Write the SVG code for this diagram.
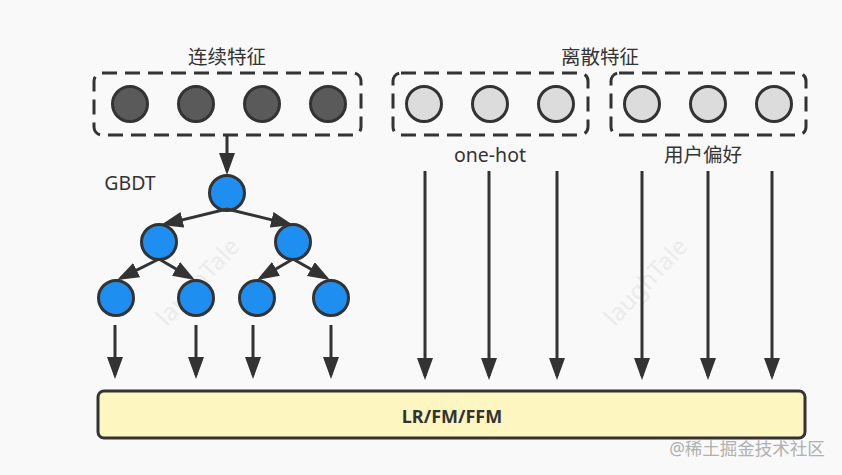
<svg xmlns="http://www.w3.org/2000/svg" width="842" height="475" viewBox="0 0 842 475">
<defs>
<marker id="ah" markerUnits="userSpaceOnUse" markerWidth="22" markerHeight="16" refX="18" refY="8" orient="auto">
<path d="M0,0 L22,8 L0,16 Z" fill="#333"/>
</marker>
<style>
.bg{fill:#f9f9f9}
.t{font-family:"Noto Sans","Noto Sans CJK SC",sans-serif;font-size:19.5px;fill:#333;text-anchor:middle}
.b{font-family:"Noto Sans",sans-serif;font-size:18px;font-weight:bold;fill:#333;text-anchor:middle}
.wm{font-family:"Noto Sans",sans-serif;font-size:24px;fill:#ebebeb;text-anchor:middle}
.box{fill:none;stroke:#333;stroke-width:3;stroke-dasharray:15 8}
.dk{fill:#5a5a5a;stroke:#333;stroke-width:3}
.lt{fill:#dcdcdc;stroke:#333;stroke-width:3}
.bl{fill:#1e8ff0;stroke:#333;stroke-width:3}
.e{stroke:#333;stroke-width:3;fill:none;marker-end:url(#ah)}
</style>
</defs>
<rect class="bg" x="0" y="0" width="842" height="475"/>
<g id="watermarks">
<text class="wm" transform="translate(198,282) rotate(-47)" dy="8">laughTale</text>
<text class="wm" transform="translate(646,282) rotate(-47)" dy="8">laughTale</text>
</g>
<g id="continuous">
<text class="t" x="227" y="64">连续特征</text>
<rect class="box" x="94" y="73" width="267" height="62" rx="8"/>
<circle class="dk" cx="130" cy="104" r="17.5"/>
<circle class="dk" cx="196" cy="104" r="17.5"/>
<circle class="dk" cx="262" cy="104" r="17.5"/>
<circle class="dk" cx="328" cy="104" r="17.5"/>
</g>
<g id="discrete">
<text class="t" x="600" y="64">离散特征</text>
<g id="onehot">
<rect class="box" x="393" y="73" width="195" height="62" rx="8"/>
<circle class="lt" cx="424" cy="104" r="17.5"/>
<circle class="lt" cx="490" cy="104" r="17.5"/>
<circle class="lt" cx="556" cy="104" r="17.5"/>
<text class="t" x="490" y="162">one-hot</text>
</g>
<g id="pref">
<rect class="box" x="611" y="73" width="195" height="62" rx="8"/>
<circle class="lt" cx="642" cy="104" r="17.5"/>
<circle class="lt" cx="708" cy="104" r="17.5"/>
<circle class="lt" cx="774" cy="104" r="17.5"/>
<text class="t" x="703" y="162">用户偏好</text>
</g>
</g>
<g id="gbdt">
<text class="t" x="130" y="190">GBDT</text>
<circle id="n0" class="bl" cx="227" cy="193" r="17.5"/>
<circle id="n1" class="bl" cx="159" cy="242" r="17.5"/>
<circle id="n2" class="bl" cx="293" cy="242" r="17.5"/>
<circle id="n3" class="bl" cx="116" cy="298" r="17.5"/>
<circle id="n4" class="bl" cx="196" cy="298" r="17.5"/>
<circle id="n5" class="bl" cx="257" cy="298" r="17.5"/>
<circle id="n6" class="bl" cx="331" cy="298" r="17.5"/>
</g>
<g id="model">
<rect x="98" y="391" width="707" height="47" rx="6" fill="#fdf6c1" stroke="#333" stroke-width="3"/>
<text class="b" x="452" y="423">LR/FM/FFM</text>
</g>
<g id="connectors">
<line class="e" x1="227" y1="136" x2="227" y2="171"/>
<line class="e" x1="227" y1="209" x2="164.9" y2="224.1"/>
<line class="e" x1="227" y1="209" x2="289.1" y2="224.1"/>
<line class="e" x1="159" y1="259" x2="120.6" y2="278.2"/>
<line class="e" x1="159" y1="259" x2="191.5" y2="278"/>
<line class="e" x1="293" y1="259" x2="260.5" y2="278"/>
<line class="e" x1="293" y1="259" x2="326.5" y2="278"/>
<line class="e" x1="115" y1="325" x2="115" y2="375"/>
<line class="e" x1="196" y1="325" x2="196" y2="375"/>
<line class="e" x1="253" y1="325" x2="253" y2="375"/>
<line class="e" x1="331" y1="325" x2="331" y2="375"/>
<line class="e" x1="425" y1="171" x2="425" y2="376"/>
<line class="e" x1="489" y1="171" x2="489" y2="376"/>
<line class="e" x1="557" y1="171" x2="557" y2="376"/>
<line class="e" x1="642" y1="171" x2="642" y2="376"/>
<line class="e" x1="708" y1="171" x2="708" y2="376"/>
<line class="e" x1="772" y1="171" x2="772" y2="376"/>
</g>
<text x="747" y="455" style="font-family:'Noto Sans','Noto Sans CJK SC',sans-serif;font-size:17.5px;fill:#b0b0b0;text-anchor:middle">@稀土掘金技术社区</text>
</svg>
